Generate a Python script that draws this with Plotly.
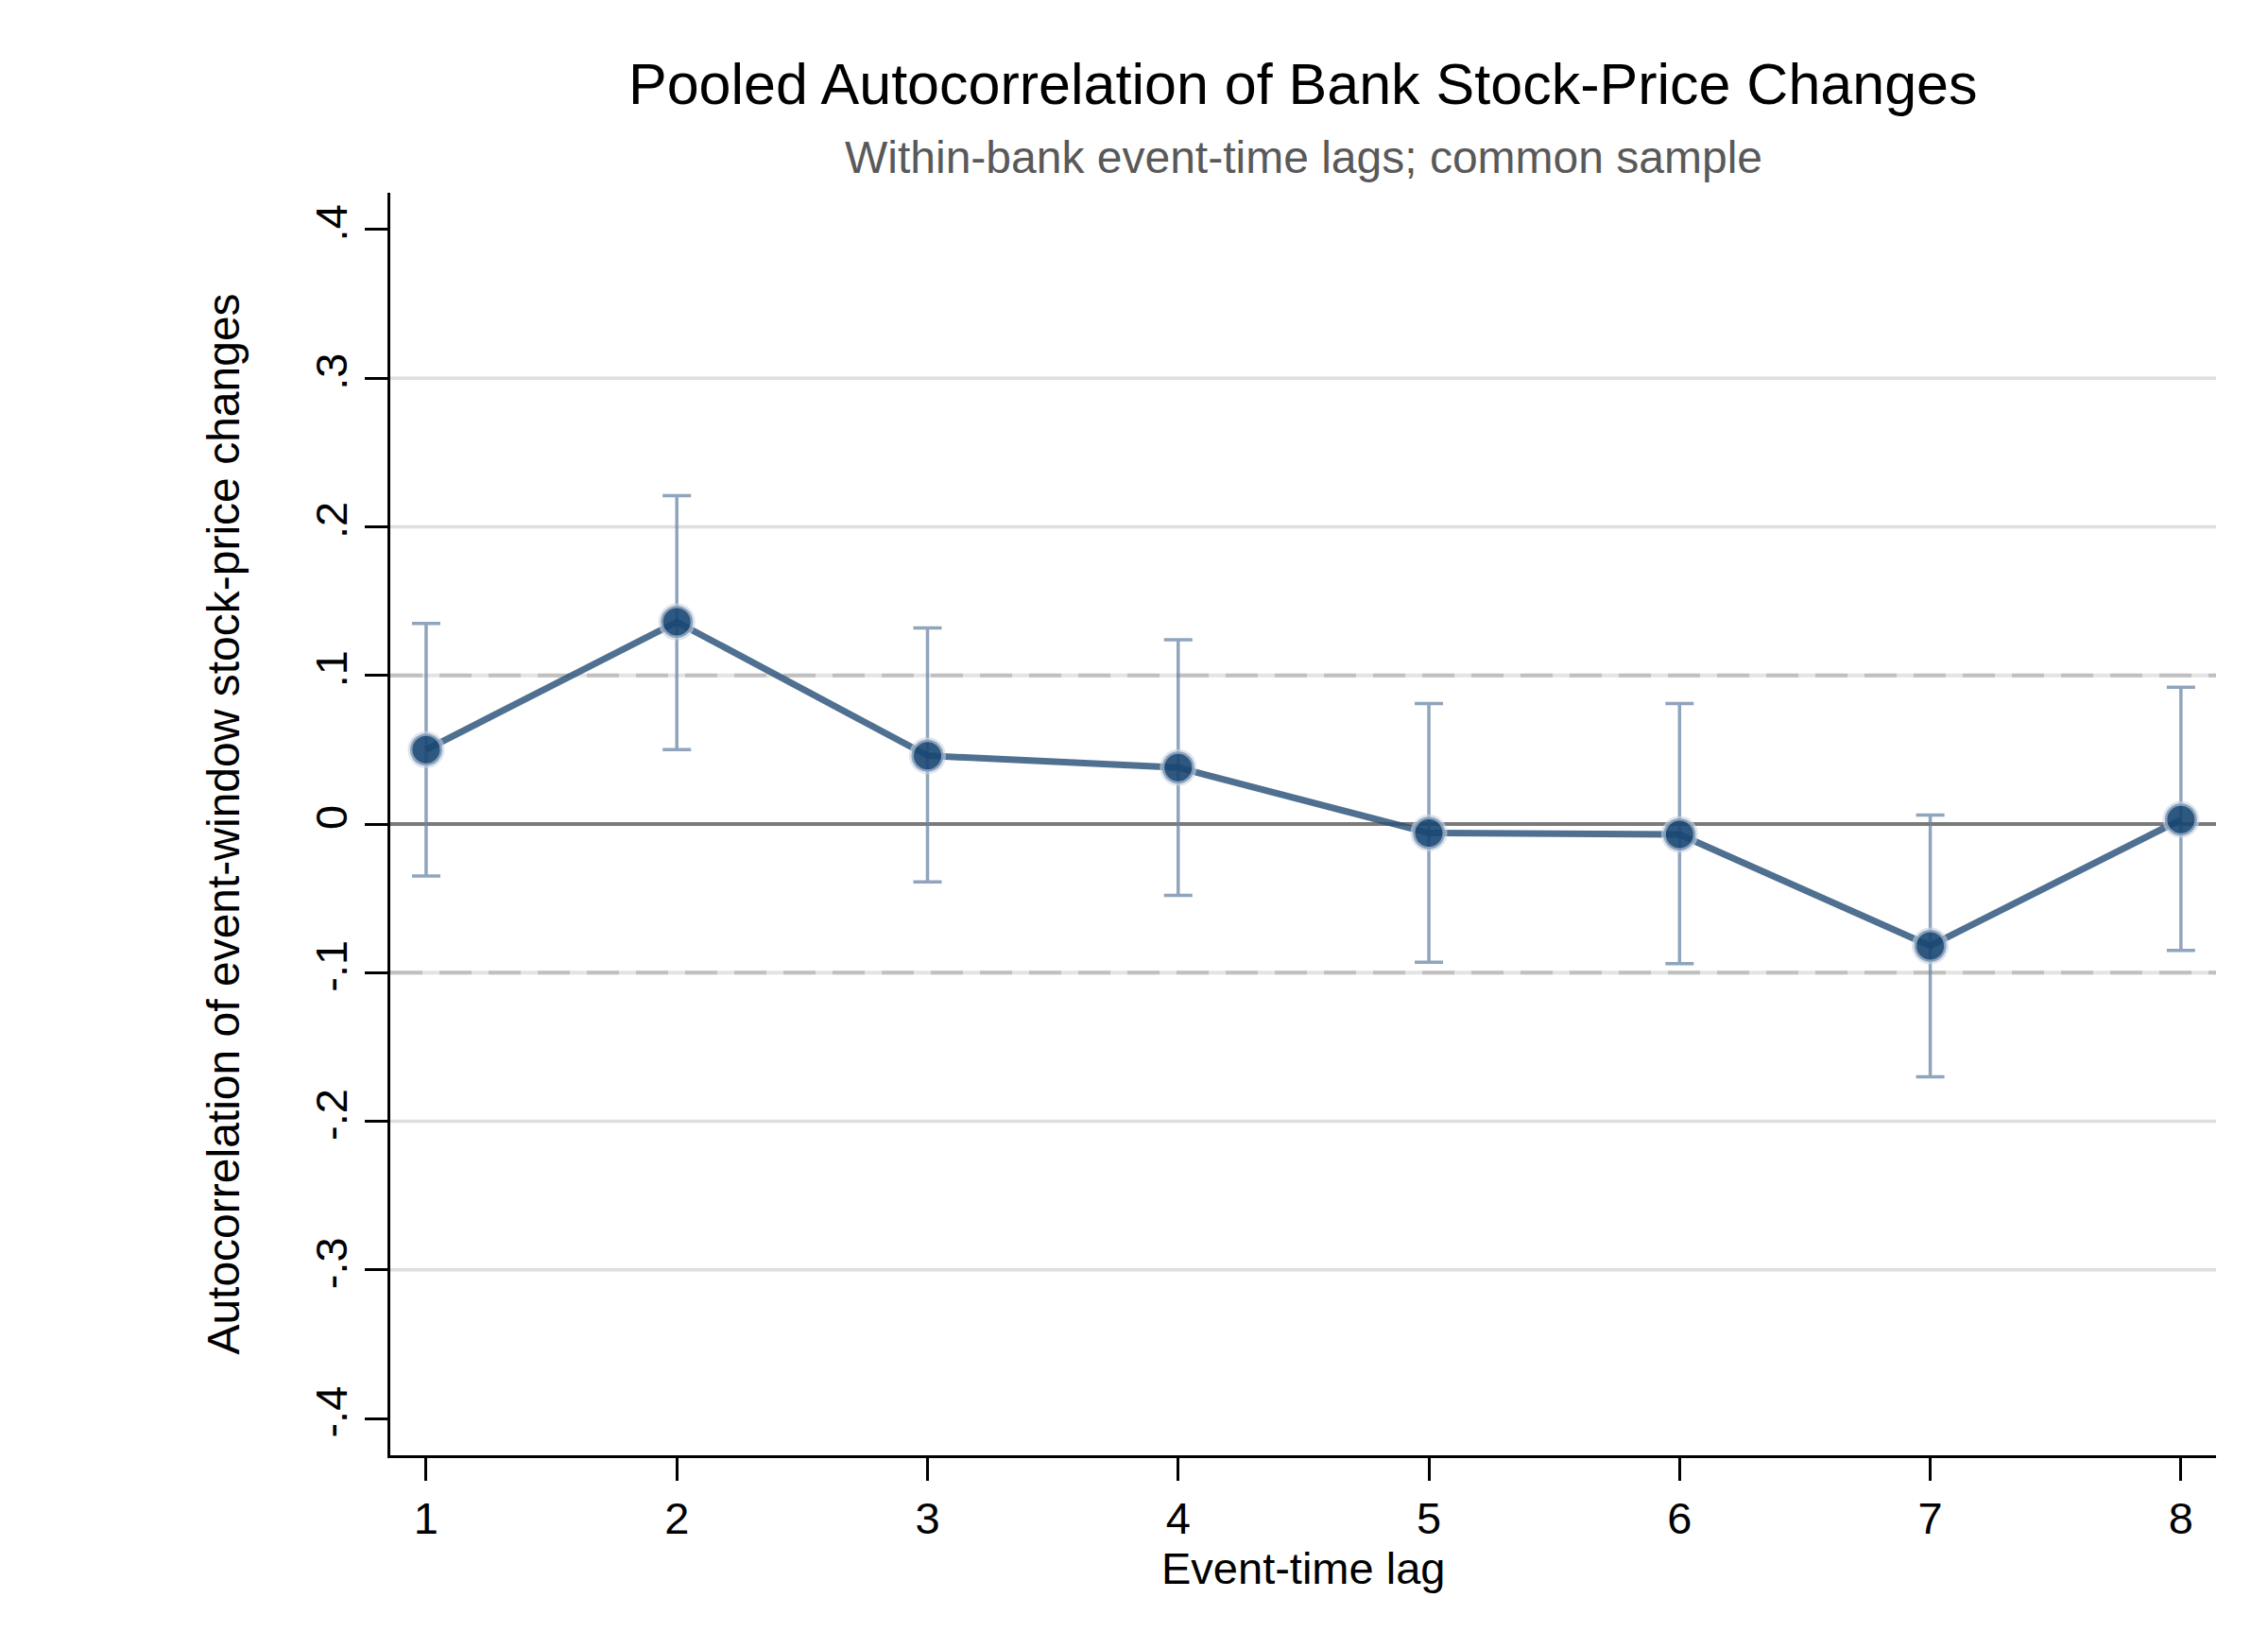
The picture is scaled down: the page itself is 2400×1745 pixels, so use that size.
import plotly.graph_objects as go

lags = [1, 2, 3, 4, 5, 6, 7, 8]
rho = [0.050, 0.136, 0.046, 0.038, -0.006, -0.007, -0.082, 0.003]
ci_upper = [0.135, 0.221, 0.132, 0.124, 0.081, 0.081, 0.006, 0.092]
ci_lower = [-0.035, 0.050, -0.039, -0.048, -0.093, -0.094, -0.170, -0.085]
y_ticks = [-0.4, -0.3, -0.2, -0.1, 0, 0.1, 0.2, 0.3, 0.4]
y_ticktext = ["-.4", "-.3", "-.2", "-.1", "0", ".1", ".2", ".3", ".4"]
grid_vals = [-0.3, -0.2, 0.2, 0.3]
band_vals = [-0.1, 0.1]

FONT = "Liberation Sans, Arial, sans-serif"
W, H = 2400, 1745
L, R, T, B = 413, 55, 204, 205
PH = H - T - B

fig = go.Figure()

err_plus = [u - r for u, r in zip(ci_upper, rho)]
err_minus = [r - l for r, l in zip(rho, ci_lower)]

fig.add_trace(go.Scatter(
    x=lags, y=rho, mode="markers",
    marker=dict(size=1, opacity=0),
    error_y=dict(type="data", symmetric=False, array=err_plus, arrayminus=err_minus,
                 color="rgba(105,135,165,0.75)", thickness=3.5, width=15),
    hoverinfo="skip", showlegend=False,
))
fig.add_trace(go.Scatter(
    x=lags, y=rho, mode="lines+markers",
    line=dict(color="rgba(40,80,120,0.82)", width=7),
    marker=dict(size=34, color="rgba(24,70,115,0.9)",
                line=dict(color="rgba(200,212,226,0.6)", width=5)),
    showlegend=False,
))

shapes = []
for v in grid_vals:
    shapes.append(dict(type="line", xref="paper", x0=0, x1=1, yref="y", y0=v, y1=v,
                       line=dict(color="#dedede", width=3.5), layer="below"))
for v in band_vals:
    shapes.append(dict(type="line", xref="paper", x0=0, x1=1, yref="y", y0=v, y1=v,
                       line=dict(color="#e3e3e3", width=4), layer="below"))
    shapes.append(dict(type="line", xref="paper", x0=0, x1=1, yref="y", y0=v, y1=v,
                       line=dict(color="#c0c0c0", width=4, dash="34px,18px"), layer="below"))
shapes.append(dict(type="line", xref="paper", x0=0, x1=1, yref="y", y0=0, y1=0,
                   line=dict(color="#7a7a7a", width=4), layer="below"))

def py(pix):
    return (H - B - pix) / PH

annotations = [
    dict(text="Pooled Autocorrelation of Bank Stock-Price Changes", xref="paper", yref="paper",
         x=0.5, y=py(113), xanchor="center", yanchor="bottom", yshift=-12, showarrow=False,
         font=dict(family=FONT, size=61, color="black")),
    dict(text="Within-bank event-time lags; common sample", xref="paper", yref="paper",
         x=0.5, y=py(184), xanchor="center", yanchor="bottom", yshift=-11, showarrow=False,
         font=dict(family=FONT, size=48, color="#595959")),
    dict(text="Event-time lag", xref="paper", yref="paper",
         x=0.5, y=py(1671), xanchor="center", yanchor="bottom", yshift=-17, showarrow=False,
         font=dict(family=FONT, size=47, color="black")),
]

fig.update_layout(
    width=W, height=H,
    margin=dict(l=L, r=R, t=T, b=B),
    paper_bgcolor="white", plot_bgcolor="white",
    shapes=shapes, annotations=annotations,
    font=dict(family=FONT, color="black"),
    xaxis=dict(range=[0.857, 8.14], tickvals=lags, ticktext=[str(v) for v in lags],
               showgrid=False, zeroline=False, showline=True, linecolor="black", linewidth=3,
               ticks="outside", ticklen=24, tickwidth=2.5, tickcolor="black",
               tickfont=dict(family=FONT, size=47, color="black")),
    yaxis=dict(range=[-0.4247, 0.4247], tickvals=y_ticks, ticktext=y_ticktext, tickangle=-90,
               showgrid=False, zeroline=False, showline=True, linecolor="black", linewidth=3,
               ticks="outside", ticklen=24, tickwidth=2.5, tickcolor="black",
               tickfont=dict(family=FONT, size=47, color="black"),
               title=dict(text="Autocorrelation of event-window stock-price changes",
                          font=dict(family=FONT, size=48, color="black"), standoff=56)),
)

fig.write_html("out.html")
